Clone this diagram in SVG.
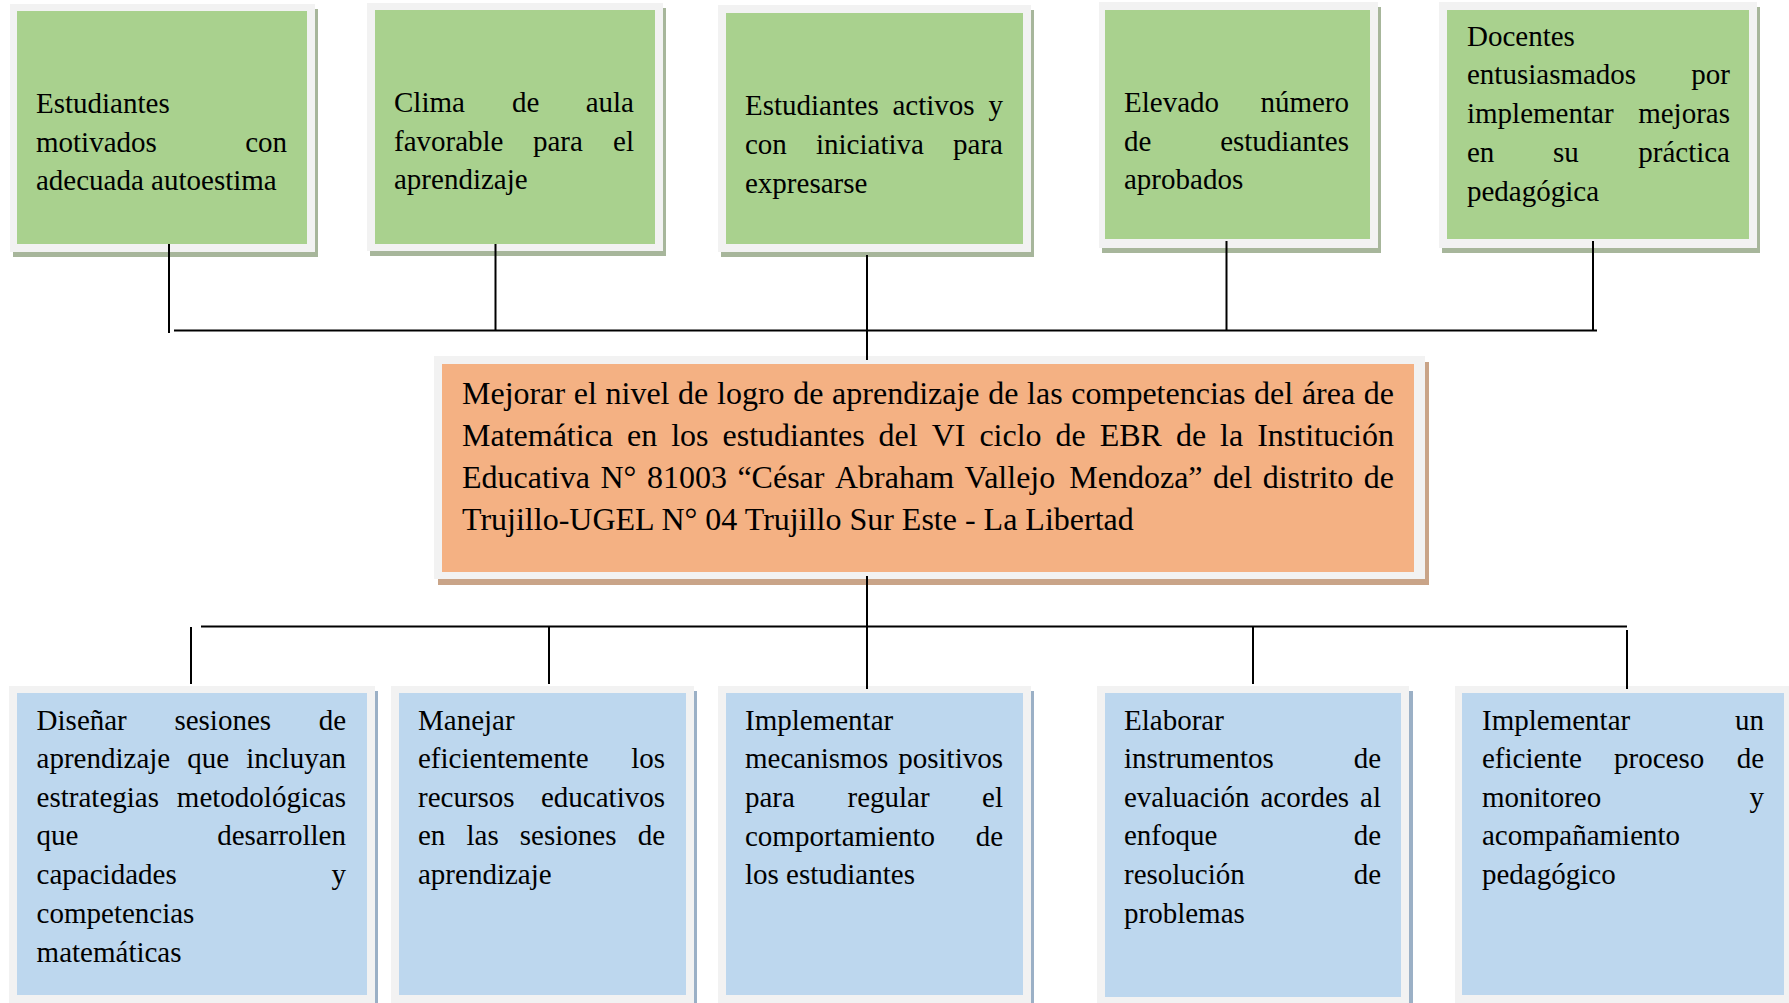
<svg xmlns="http://www.w3.org/2000/svg" width="1789" height="1003" viewBox="0 0 1789 1003">
<style>
.frame{fill:#f2f2f2}
.g{fill:#a9d18e}
.o{fill:#f4b183}
.b{fill:#bdd7ee}
.shg{fill:#a7b69b}
.sho{fill:#c9a488}
.shb{fill:#9bb0c6}
text{font-family:"Liberation Serif","Times New Roman",serif;font-size:29px;fill:#000}
.big{font-size:32px}
.e{text-anchor:end}
.ln{stroke:#000;stroke-width:2;fill:none}
</style>
<rect width="1789" height="1003" fill="#fff"/>
<g id="n1">
<rect class="shg" x="13" y="9" width="305" height="248"/>
<rect class="frame" x="10" y="4" width="305" height="248"/>
<rect class="g" x="17" y="11" width="290" height="233"/>
<text x="36" y="113">Estudiantes</text>
<text y="152"><tspan x="36">motivados</tspan><tspan class="e" x="287">con</tspan></text>
<text x="36" y="190">adecuada autoestima</text>
</g>
<g id="n2">
<rect class="shg" x="370" y="8" width="296" height="248"/>
<rect class="frame" x="367" y="3" width="296" height="248"/>
<rect class="g" x="375" y="10" width="280" height="234"/>
<text y="112"><tspan x="394">Clima</tspan><tspan x="512">de</tspan><tspan class="e" x="634">aula</tspan></text>
<text y="151"><tspan x="394">favorable</tspan><tspan x="533">para</tspan><tspan class="e" x="634">el</tspan></text>
<text x="394" y="189">aprendizaje</text>
</g>
<g id="n3">
<rect class="shg" x="721" y="10" width="313" height="247"/>
<rect class="frame" x="718" y="5" width="313" height="247"/>
<rect class="g" x="726" y="13" width="297" height="231"/>
<text y="115"><tspan x="745">Estudiantes</tspan><tspan x="892.5">activos</tspan><tspan class="e" x="1003">y</tspan></text>
<text y="154"><tspan x="745">con</tspan><tspan x="816">iniciativa</tspan><tspan class="e" x="1003">para</tspan></text>
<text x="745" y="193">expresarse</text>
</g>
<g id="n4">
<rect class="shg" x="1102" y="7" width="279" height="246"/>
<rect class="frame" x="1099" y="2" width="279" height="246"/>
<rect class="g" x="1105" y="10" width="265" height="229"/>
<text y="112"><tspan x="1124">Elevado</tspan><tspan class="e" x="1349">número</tspan></text>
<text y="151"><tspan x="1124">de</tspan><tspan class="e" x="1349">estudiantes</tspan></text>
<text x="1124" y="189">aprobados</text>
</g>
<g id="n5">
<rect class="shg" x="1442" y="7" width="318" height="246"/>
<rect class="frame" x="1439" y="2" width="318" height="246"/>
<rect class="g" x="1447" y="10" width="302" height="229"/>
<text x="1467" y="46">Docentes</text>
<text y="84"><tspan x="1467">entusiasmados</tspan><tspan class="e" x="1730">por</tspan></text>
<text y="123"><tspan x="1467">implementar</tspan><tspan class="e" x="1730">mejoras</tspan></text>
<text y="162"><tspan x="1467">en</tspan><tspan x="1553">su</tspan><tspan class="e" x="1730">práctica</tspan></text>
<text x="1467" y="201">pedagógica</text>
</g>
<g id="center">
<rect class="sho" x="438" y="362" width="991" height="223"/>
<rect class="frame" x="434" y="356" width="991" height="223"/>
<rect class="o" x="442" y="364" width="972" height="208"/>
<text class="big" y="404"><tspan x="462">Mejorar</tspan><tspan x="573.7">el</tspan><tspan x="605.5">nivel</tspan><tspan x="678.1">de</tspan><tspan x="717">logro</tspan><tspan x="793.2">de</tspan><tspan x="832.1">aprendizaje</tspan><tspan x="988.2">de</tspan><tspan x="1027.1">las</tspan><tspan x="1071.3">competencias</tspan><tspan x="1254.1">del</tspan><tspan x="1301.9">área</tspan><tspan class="e" x="1394">de</tspan></text>
<text class="big" y="446"><tspan x="462">Matemática</tspan><tspan x="627">en</tspan><tspan x="671.2">los</tspan><tspan x="722.5">estudiantes</tspan><tspan x="878.6">del</tspan><tspan x="931.7">VI</tspan><tspan x="979.4">ciclo</tspan><tspan x="1055.6">de</tspan><tspan x="1099.7">EBR</tspan><tspan x="1175.9">de</tspan><tspan x="1220">la</tspan><tspan class="e" x="1394">Institución</tspan></text>
<text class="big" y="488"><tspan x="462">Educativa</tspan><tspan x="600.5">N°</tspan><tspan x="646.9">81003</tspan><tspan x="737.4">“César</tspan><tspan x="835">Abraham</tspan><tspan x="964.6">Vallejo</tspan><tspan x="1069.3">Mendoza”</tspan><tspan x="1213.1">del</tspan><tspan x="1262.7">distrito</tspan><tspan class="e" x="1394">de</tspan></text>
<text class="big" x="462" y="530">Trujillo-UGEL N° 04 Trujillo Sur Este - La Libertad</text>
</g>
<g id="m1">
<rect class="shb" x="12" y="691" width="366" height="320"/>
<rect class="frame" x="9" y="686" width="366" height="320"/>
<rect class="b" x="17" y="693" width="350" height="302"/>
<text y="730"><tspan x="36.6">Diseñar</tspan><tspan x="174.4">sesiones</tspan><tspan class="e" x="346">de</tspan></text>
<text y="768"><tspan x="36.6">aprendizaje</tspan><tspan x="187.3">que</tspan><tspan class="e" x="346">incluyan</tspan></text>
<text y="807"><tspan x="36.6">estrategias</tspan><tspan class="e" x="346">metodológicas</tspan></text>
<text y="845"><tspan x="36.6">que</tspan><tspan class="e" x="346">desarrollen</tspan></text>
<text y="884"><tspan x="36.6">capacidades</tspan><tspan class="e" x="346">y</tspan></text>
<text x="36.6" y="923">competencias</text>
<text x="36.6" y="962">matemáticas</text>
</g>
<g id="m2">
<rect class="shb" x="394" y="691" width="303" height="320"/>
<rect class="frame" x="391" y="686" width="303" height="320"/>
<rect class="b" x="399" y="693" width="287" height="302"/>
<text x="418" y="730">Manejar</text>
<text y="768"><tspan x="418">eficientemente</tspan><tspan class="e" x="665">los</tspan></text>
<text y="807"><tspan x="418">recursos</tspan><tspan class="e" x="665">educativos</tspan></text>
<text y="845"><tspan x="418">en</tspan><tspan x="466.5">las</tspan><tspan x="519.8">sesiones</tspan><tspan class="e" x="665">de</tspan></text>
<text x="418" y="884">aprendizaje</text>
</g>
<g id="m3">
<rect class="shb" x="721" y="691" width="313" height="320"/>
<rect class="frame" x="718" y="686" width="313" height="320"/>
<rect class="b" x="726" y="693" width="297" height="302"/>
<text x="745" y="730">Implementar</text>
<text y="768"><tspan x="745">mecanismos</tspan><tspan class="e" x="1003">positivos</tspan></text>
<text y="807"><tspan x="745">para</tspan><tspan x="847.5">regular</tspan><tspan class="e" x="1003">el</tspan></text>
<text y="846"><tspan x="745">comportamiento</tspan><tspan class="e" x="1003">de</tspan></text>
<text x="745" y="884">los estudiantes</text>
</g>
<g id="m4">
<rect class="shb" x="1100" y="691" width="313" height="320"/>
<rect class="frame" x="1097" y="686" width="312" height="320"/>
<rect class="b" x="1105" y="693" width="296" height="304"/>
<text x="1124" y="730">Elaborar</text>
<text y="768"><tspan x="1124">instrumentos</tspan><tspan class="e" x="1381">de</tspan></text>
<text y="807"><tspan x="1124">evaluación</tspan><tspan x="1260.5">acordes</tspan><tspan class="e" x="1381">al</tspan></text>
<text y="845"><tspan x="1124">enfoque</tspan><tspan class="e" x="1381">de</tspan></text>
<text y="884"><tspan x="1124">resolución</tspan><tspan class="e" x="1381">de</tspan></text>
<text x="1124" y="923">problemas</text>
</g>
<g id="m5">
<rect class="frame" x="1455" y="686" width="334" height="320"/>
<rect class="b" x="1462" y="693" width="322" height="302"/>
<text y="730"><tspan x="1482">Implementar</tspan><tspan class="e" x="1764">un</tspan></text>
<text y="768"><tspan x="1482">eficiente</tspan><tspan x="1614">proceso</tspan><tspan class="e" x="1764">de</tspan></text>
<text y="807"><tspan x="1482">monitoreo</tspan><tspan class="e" x="1764">y</tspan></text>
<text x="1482" y="845">acompañamiento</text>
<text x="1482" y="884">pedagógico</text>
</g>
<g id="connectors">
<line class="ln" x1="174" y1="330.5" x2="1597" y2="330.5"/>
<line class="ln" x1="169" y1="244" x2="169" y2="333"/>
<line class="ln" x1="495.5" y1="244" x2="495.5" y2="331"/>
<line class="ln" x1="867" y1="255" x2="867" y2="360"/>
<line class="ln" x1="1226.5" y1="241" x2="1226.5" y2="331"/>
<line class="ln" x1="1593" y1="241" x2="1593" y2="331"/>
<line class="ln" x1="201" y1="626.5" x2="1627" y2="626.5"/>
<line class="ln" x1="867" y1="576" x2="867" y2="689"/>
<line class="ln" x1="191" y1="627" x2="191" y2="684"/>
<line class="ln" x1="549" y1="627" x2="549" y2="684"/>
<line class="ln" x1="1253" y1="627" x2="1253" y2="684"/>
<line class="ln" x1="1627" y1="630" x2="1627" y2="689"/>
</g>
</svg>
